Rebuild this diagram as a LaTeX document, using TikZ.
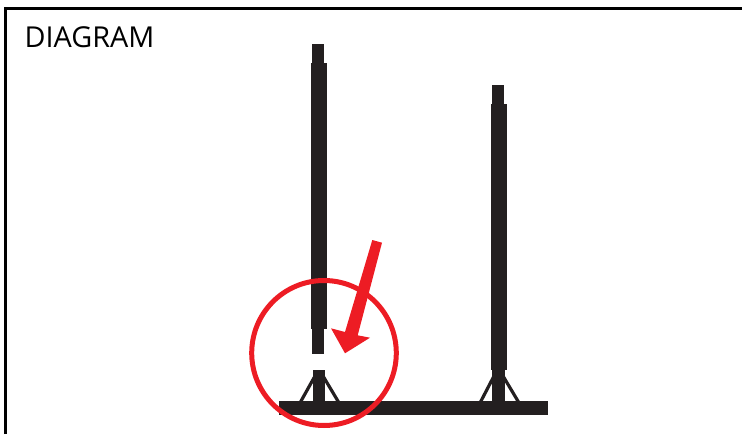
\documentclass[tikz,border=0pt]{standalone}
\usepackage{fontspec}
\setmainfont{Open Sans}
\usepackage{tikz}
\usetikzlibrary{positioning,calc}
\usepackage{xcolor}
\definecolor{polyblack}{HTML}{231F20}
\definecolor{alertred}{HTML}{ED1C24}
\tikzset{
    polefill/.style={fill=polyblack, draw=none},
    polelegs/.style={draw=polyblack, line width=3.2pt},
    alertfill/.style={fill=alertred, draw=none}
}

\begin{document}
\begin{tikzpicture}[x=1pt, y=-1pt]
    \useasboundingbox (0, 0) rectangle (742, 434);

    % 1. Cornice
    \draw[line width=3pt, draw=black] (5, 434) -- (5, 8.5) -- (742, 8.5);
    \node[font=\fontsize{28.8}{29}\selectfont, text=black, inner sep=0pt, anchor=base west] (title) at (24.5, 47.3) {DIAGRAM};

    % 2. Palo sinistro (staccato dalla base)
    \begin{scope}
        \fill[polefill] (312.3, 44) rectangle (324, 63.5);
        \fill[polefill] (311, 63) rectangle (327, 329);
        \fill[polefill] (312, 328) rectangle (324, 354);
        \fill[polefill] (313, 370) rectangle (325, 402);
        \draw[polelegs] (315, 376) -- (300.5, 402);
        \draw[polelegs] (323, 376) -- (338.5, 402);
    \end{scope}

    % 3. Palo destro
    \begin{scope}
        \fill[polefill] (492, 85) rectangle (504, 104.5);
        \fill[polefill] (491, 104) rectangle (507, 370);
        \fill[polefill] (492, 369) rectangle (505, 402);
        \draw[polelegs] (494, 376) -- (480.5, 402);
        \draw[polelegs] (503, 376) -- (518.5, 402);
    \end{scope}

    % 4. Traversa
    \fill[polefill] (279, 401) rectangle (548, 415);

    % 5. Cerchio e freccia
    \draw[line width=5pt, draw=alertred] (324, 353) ellipse (72.3 and 72.5);
    \fill[alertfill] (372.3, 240) -- (382, 242.7) -- (357.7, 335.3) -- (370, 337.7)
                     -- (345, 353.3) -- (331, 328.3) -- (345, 332) -- cycle;
\end{tikzpicture}
\end{document}
